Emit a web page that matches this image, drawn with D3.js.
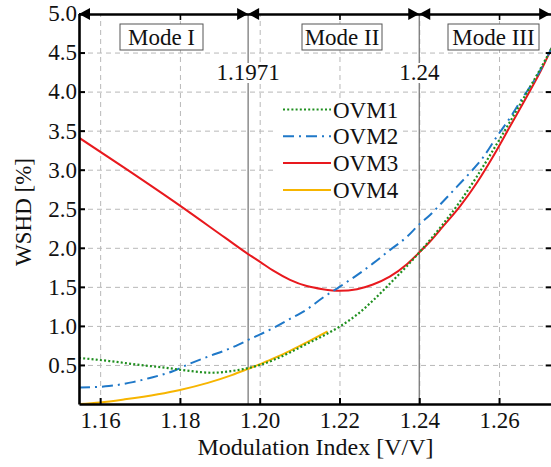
<!DOCTYPE html>
<html><head><meta charset="utf-8">
<script src="https://cdn.jsdelivr.net/npm/d3@7/dist/d3.min.js"></script>
<style>
html,body{margin:0;padding:0;background:#fff;}
svg text{font-family:"Liberation Serif","Times New Roman",Times,serif;}
</style></head>
<body><svg id="c" width="551" height="467" style="display:block"></svg>
<script>
// ---------- data ----------
const xTicks = [1.16, 1.18, 1.20, 1.22, 1.24, 1.26];
const yTicks = [0.5, 1.0, 1.5, 2.0, 2.5, 3.0, 3.5, 4.0, 4.5, 5.0];
const topTicks = [1.18, 1.22, 1.26];
const modeBounds = [1.1971, 1.24];
const modeBoundLabels = ["1.1971", "1.24"];
const modeNames = ["Mode I", "Mode II", "Mode III"];
const seriesNames = ["OVM1", "OVM2", "OVM3", "OVM4"];

const ovm1X = [1.1547, 1.1623, 1.170, 1.177, 1.183, 1.188, 1.194, 1.1971, 1.2001, 1.2033, 1.2076, 1.2118, 1.2158, 1.22, 1.2243, 1.2285, 1.2326, 1.2368, 1.24, 1.2459, 1.2502, 1.2544, 1.2585, 1.2627, 1.2670, 1.2710, 1.2732];
const ovm1Y = [0.59, 0.55, 0.50, 0.46, 0.42, 0.40, 0.43, 0.46, 0.50, 0.56, 0.66, 0.77, 0.87, 0.99, 1.14, 1.33, 1.54, 1.76, 1.94, 2.30, 2.59, 2.91, 3.25, 3.61, 3.99, 4.35, 4.56];

const ovm2X = [1.1547, 1.1622, 1.1682, 1.1722, 1.1782, 1.1822, 1.1872, 1.1915, 1.1947, 1.1971, 1.2033, 1.2076, 1.2118, 1.2158, 1.22, 1.2244, 1.2284, 1.2326, 1.2369, 1.24, 1.2427, 1.2459, 1.2494, 1.2527, 1.2559, 1.2594, 1.2627, 1.2659, 1.2694, 1.2732];
const ovm2Y = [0.21, 0.23, 0.28, 0.33, 0.42, 0.51, 0.61, 0.69, 0.76, 0.82, 0.97, 1.09, 1.21, 1.36, 1.50, 1.65, 1.80, 1.97, 2.14, 2.30, 2.42, 2.59, 2.78, 2.96, 3.15, 3.42, 3.66, 3.92, 4.19, 4.56];

const ovm3X = [1.1547, 1.1662, 1.18, 1.1913, 1.1971, 1.2001, 1.2033, 1.2076, 1.2118, 1.2158, 1.22, 1.2244, 1.2284, 1.2326, 1.2369, 1.24, 1.2427, 1.2459, 1.2502, 1.2544, 1.2585, 1.2627, 1.2670, 1.2710, 1.2732];
const ovm3Y = [3.41, 3.02, 2.54, 2.13, 1.92, 1.82, 1.71, 1.59, 1.51, 1.47, 1.45, 1.47, 1.53, 1.63, 1.79, 1.94, 2.08, 2.27, 2.53, 2.83, 3.17, 3.55, 3.94, 4.32, 4.56];

const ovm4X = [1.1547, 1.160, 1.1662, 1.1745, 1.18, 1.187, 1.193, 1.1971, 1.2001, 1.2033, 1.2076, 1.2118, 1.217];
const ovm4Y = [0.0, 0.02, 0.06, 0.125, 0.18, 0.27, 0.37, 0.45, 0.51, 0.58, 0.68, 0.79, 0.93];

// ---------- layout ----------
const L = 79, T = 14, R = 551.7, B = 404;
const FONT = "Liberation Serif, Times New Roman, Times, serif";
const svg = d3.select("#c");
const x = d3.scaleLinear().domain([1.1547, 1.2732]).range([L, R]);
const y = d3.scaleLinear().domain([0, 5]).range([B, T - 0.5]);

// grid
const gridG = svg.append("g");
gridG.append("g").attr("transform", `translate(0,${B})`)
  .call(d3.axisBottom(x).tickValues(xTicks).tickSize(-(B - T)).tickFormat(""))
  .call(g => g.select(".domain").remove())
  .selectAll("line").attr("stroke", "#b8b8b8").attr("stroke-dasharray", "5,4");
gridG.append("g").attr("transform", `translate(${L},0)`)
  .call(d3.axisLeft(y).tickValues(yTicks.filter(v => v < 5)).tickSize(-(R - L)).tickFormat(""))
  .call(g => g.select(".domain").remove())
  .selectAll("line").attr("stroke", "#b8b8b8").attr("stroke-dasharray", "5,4");

// mode boundary lines
svg.append("g").selectAll("line").data(modeBounds).join("line")
  .attr("x1", d => x(d)).attr("x2", d => x(d)).attr("y1", T).attr("y2", B)
  .attr("stroke", "#7a7a7a").attr("stroke-width", 1.3);

// curves
svg.append("clipPath").attr("id", "clip").append("rect")
  .attr("x", L).attr("y", T).attr("width", R - L).attr("height", B - T);
const line = d3.line().x(d => x(d[0])).y(d => y(d[1])).curve(d3.curveMonotoneX);
const zip = (a, b) => a.map((v, i) => [v, b[i]]);
const styles = [
  {color: "#1f8f1f", dash: "2,2.2", w: 2.2},
  {color: "#1f78c8", dash: "11,5,2,5", w: 2},
  {color: "#e8191e", dash: null, w: 2},
  {color: "#f7b500", dash: null, w: 2}
];
const seriesData = [zip(ovm1X, ovm1Y), zip(ovm2X, ovm2Y), zip(ovm3X, ovm3Y), zip(ovm4X, ovm4Y)];
const curveG = svg.append("g").attr("clip-path", "url(#clip)");
[3, 2, 1, 0].forEach(i => {
  curveG.append("path").datum(seriesData[i]).attr("d", line)
    .attr("fill", "none").attr("stroke", styles[i].color).attr("stroke-width", styles[i].w)
    .attr("stroke-dasharray", styles[i].dash);
});

// legend
const lg = svg.append("g");
lg.append("rect").attr("x", 277).attr("y", 98).attr("width", 126).attr("height", 102).attr("fill", "#fff");
seriesNames.forEach((n, i) => {
  const yy = 109.5 + i * 26.8;
  lg.append("line").attr("x1", 283).attr("x2", 331).attr("y1", yy).attr("y2", yy)
    .attr("stroke", styles[i].color).attr("stroke-width", styles[i].w)
    .attr("stroke-dasharray", styles[i].dash);
  lg.append("text").attr("x", 333).attr("y", yy + 8).attr("font-size", 23)
    .attr("font-family", FONT).attr("fill", "#111").text(n);
});

// mode boundary labels
modeBounds.forEach((b, i) => {
  const g = svg.append("g");
  const bg = g.append("rect").attr("fill", "#fff");
  const t = g.append("text").attr("x", x(b)).attr("y", 80).attr("text-anchor", "middle")
    .attr("font-size", 23).attr("font-family", FONT).attr("fill", "#111").text(modeBoundLabels[i]);
  const bb = t.node().getBBox();
  bg.attr("x", bb.x - 1).attr("y", bb.y + 3).attr("width", bb.width + 2).attr("height", bb.height - 5);
});

// mode boxes
const modeBoxX = [[120, 203], [302, 382], [448, 539]];
modeNames.forEach((n, i) => {
  const [a, b] = modeBoxX[i];
  svg.append("rect").attr("x", a).attr("y", 24).attr("width", b - a).attr("height", 26)
    .attr("fill", "#fff").attr("stroke", "#555").attr("stroke-width", 1);
  svg.append("text").attr("x", (a + b) / 2).attr("y", 45).attr("text-anchor", "middle")
    .attr("font-size", 23).attr("font-family", FONT).attr("fill", "#111").text(n);
});

// axes
const axB = svg.append("g").attr("transform", `translate(0,${B})`)
  .call(d3.axisBottom(x).tickValues(xTicks).tickFormat(d3.format(".2f")).tickSizeInner(-6).tickSizeOuter(0).tickPadding(8));
axB.attr("font-family", FONT);
axB.select(".domain").attr("stroke", "#000").attr("stroke-width", 2.6);
axB.selectAll(".tick line").attr("stroke", "#000").attr("stroke-width", 2);
axB.selectAll("text").attr("font-size", 23).attr("fill", "#111").attr("font-family", FONT);

const axL = svg.append("g").attr("transform", `translate(${L},0)`)
  .call(d3.axisLeft(y).tickValues(yTicks).tickFormat(d3.format(".1f")).tickSizeInner(-6).tickSizeOuter(0).tickPadding(2));
axL.attr("font-family", FONT);
axL.select(".domain").attr("stroke", "#000").attr("stroke-width", 2.6);
axL.selectAll(".tick line").attr("stroke", "#000").attr("stroke-width", 2);
axL.selectAll("text").attr("font-size", 23).attr("fill", "#111").attr("font-family", FONT);

const axR = svg.append("g").attr("transform", `translate(${R},0)`)
  .call(d3.axisRight(y).tickValues(yTicks.filter(v => v < 5)).tickFormat("").tickSizeInner(-6).tickSizeOuter(0));
axR.select(".domain").remove();
axR.selectAll(".tick line").attr("stroke", "#000").attr("stroke-width", 2);

const axT = svg.append("g").attr("transform", `translate(0,${T})`)
  .call(d3.axisTop(x).tickValues(topTicks).tickFormat("").tickSizeInner(-6).tickSizeOuter(0));
axT.select(".domain").attr("stroke", "#000").attr("stroke-width", 2.6);
axT.selectAll(".tick line").attr("stroke", "#000").attr("stroke-width", 1.6);

// arrowheads on top axis
const arrows = [];
arrows.push({tip: x(x.domain()[0]), dir: -1});
modeBounds.forEach(b => { arrows.push({tip: x(b), dir: 1}); arrows.push({tip: x(b), dir: -1}); });
arrows.push({tip: x(x.domain()[1]) - 1.5, dir: 1});
svg.append("g").selectAll("path").data(arrows).join("path")
  .attr("d", d => `M${d.tip},${T} L${d.tip - d.dir * 11},${T - 6} L${d.tip - d.dir * 11},${T + 6} Z`)
  .attr("fill", "#000");

// axis titles
svg.append("text").attr("x", 315.5).attr("y", 455).attr("text-anchor", "middle")
  .attr("font-size", 24).attr("font-family", FONT).attr("fill", "#111").text("Modulation Index [V/V]");
svg.append("text").attr("transform", "translate(31,212) rotate(-90)").attr("text-anchor", "middle")
  .attr("font-size", 23).attr("font-family", FONT).attr("fill", "#111").text("WSHD [%]");
</script></body></html>
